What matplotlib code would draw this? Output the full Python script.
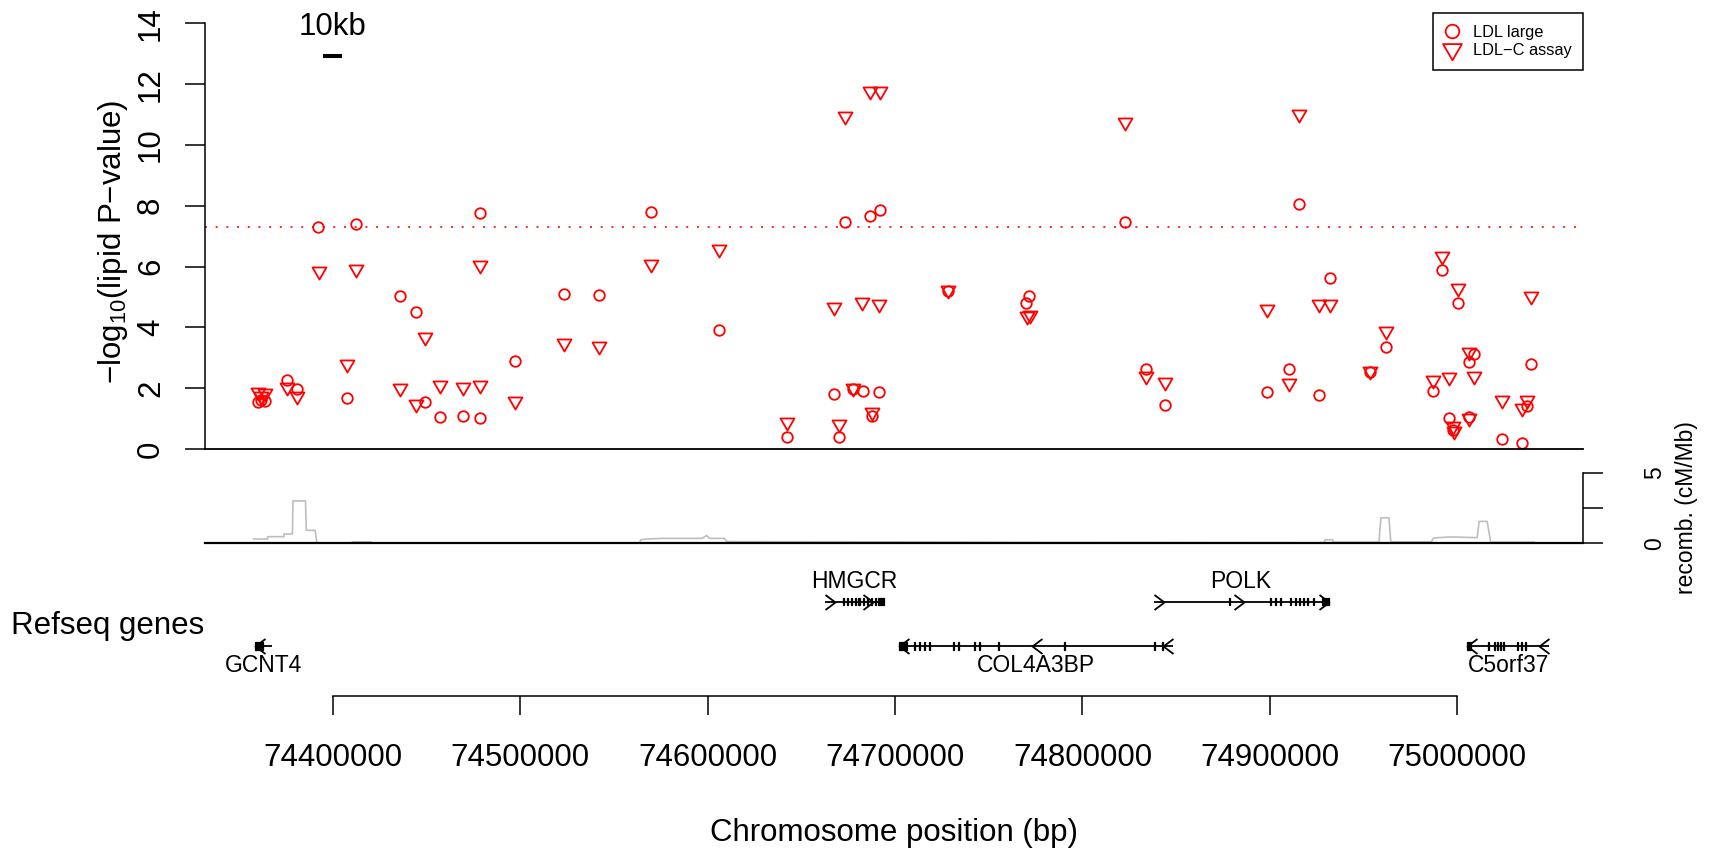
import numpy as np
import matplotlib
matplotlib.use('Agg')
import matplotlib.pyplot as plt
from matplotlib.path import Path
from matplotlib.lines import Line2D

plt.rcParams['font.family'] = ['Liberation Sans', 'DejaVu Sans']
plt.rcParams['mathtext.fontset'] = 'custom'
plt.rcParams['mathtext.rm'] = 'Liberation Sans'
plt.rcParams['mathtext.it'] = 'Liberation Sans:italic'
plt.rcParams['lines.scale_dashes'] = False

# ---------------- data ----------------
ldl_large_pos = [74360300, 74361500, 74363900, 74375800, 74380800, 74392300, 74407600, 74412300,
                 74435900, 74444400, 74449200, 74457300, 74469400, 74478600, 74478600, 74497400,
                 74523400, 74542200, 74569800, 74606100, 74642400, 74667600, 74670000, 74673300,
                 74677400, 74682800, 74686700, 74687700, 74691600, 74692000, 74728100, 74769900,
                 74771500, 74822700, 74833700, 74844000, 74898600, 74910300, 74915400, 74926000,
                 74932200, 74953400, 74962100, 74987200, 74992000, 74995400, 74997800, 75000500,
                 75006200, 75006400, 75009100, 75023800, 75034300, 75037000, 75039100]
ldl_large_logp = [1.56, 1.62, 1.57, 2.27, 1.96, 7.31, 1.67, 7.39,
                  5.03, 4.52, 1.56, 1.05, 1.09, 1.02, 7.77, 2.91,
                  5.09, 5.07, 7.81, 3.91, 0.39, 1.81, 0.39, 7.45,
                  1.96, 1.91, 7.66, 1.10, 1.87, 7.87, 5.20, 4.79,
                  5.03, 7.45, 2.63, 1.44, 1.88, 2.63, 8.06, 1.79,
                  5.64, 2.54, 3.37, 1.92, 5.89, 1.03, 0.62, 4.81,
                  1.06, 2.85, 3.11, 0.32, 0.21, 1.41, 2.79]

ldlc_pos = [74360300, 74361500, 74363900, 74375800, 74380800, 74392700, 74407600, 74412300,
            74435900, 74444400, 74449200, 74457300, 74469400, 74478600, 74478600, 74497400,
            74523400, 74542200, 74569800, 74606100, 74642400, 74667600, 74670000, 74673300,
            74677400, 74682400, 74686700, 74687700, 74691600, 74692000, 74728100, 74770200,
            74772000, 74822700, 74833700, 74844000, 74898600, 74910300, 74915400, 74926000,
            74932200, 74953400, 74962100, 74987200, 74992000, 74995500, 74997800, 74998200,
            75000500, 75006200, 75006400, 75009100, 75023800, 75034300, 75037000, 75039100]
ldlc_logp = [1.88, 1.75, 1.85, 2.04, 1.75, 5.86, 2.81, 5.91,
             2.02, 1.49, 3.67, 2.10, 2.04, 2.10, 6.06, 1.58,
             3.48, 3.39, 6.08, 6.59, 0.89, 4.68, 0.81, 10.96,
             2.02, 4.85, 11.78, 1.21, 4.76, 11.78, 5.23, 4.38,
             4.40, 10.77, 2.41, 2.21, 4.60, 2.16, 11.03, 4.76,
             4.76, 2.57, 3.89, 2.27, 6.35, 2.38, 0.76, 0.58,
             5.31, 1.03, 3.19, 2.41, 1.60, 1.36, 1.60, 5.04]

series_labels = ['LDL large', 'LDL\u2212C assay']
gw_threshold = 7.3
scale_bar_center = 74400000
scale_bar_len = 10000

recomb_pos = [74357800, 74365300, 74365300, 74374000, 74374000, 74378500, 74378800, 74385500,
              74385900, 74390600, 74391600, 74410000, 74410500, 74420500, 74421000, 74563700,
              74564300, 74567400, 74575700, 74597000, 74599500, 74601000, 74609000, 74610300,
              74700000, 74780000, 74915000, 74928900, 74929500, 74933500, 74934000, 74958200,
              74959200, 74963500, 74964500, 74986100, 74987300, 74996300, 75010600, 75011600,
              75015900, 75017800, 75041000]
recomb_rate = [0.30, 0.30, 0.47, 0.47, 0.66, 0.66, 3.00, 3.00,
               0.92, 0.92, 0.00, 0.00, 0.10, 0.10, 0.00, 0.00,
               0.25, 0.30, 0.35, 0.35, 0.55, 0.35, 0.35, 0.12,
               0.10, 0.06, 0.04, 0.04, 0.25, 0.25, 0.08, 0.08,
               1.81, 1.81, 0.10, 0.10, 0.38, 0.45, 0.40, 1.55,
               1.55, 0.08, 0.08]

gene_names = ['GCNT4', 'HMGCR', 'COL4A3BP', 'POLK', 'C5orf37']
gene_start = [74358800, 74662860, 74702340, 74838060, 75005040]
gene_end = [74367500, 74694100, 74848300, 74931270, 75049100]
gene_strand = ['-', '+', '-', '+', '-']
gene_row = [0, 1, 0, 1, 0]
gene_arrows = [[74358800],
               [74668200, 74688500],
               [74702340, 74773300, 74843000],
               [74843400, 74885960, 74931270],
               [75005040, 75043800]]
gene_exons = [
    [(74358800, 74362800)],
    [(74672000, 74672600), (74674200, 74674800), (74676300, 74677000), (74678400, 74679000),
     (74680500, 74681200), (74682700, 74683300), (74684800, 74685500), (74687000, 74687600),
     (74689100, 74689700), (74690800, 74694100)],
    [(74702340, 74706400), (74710120, 74710700), (74712790, 74713300), (74715460, 74716000),
     (74718130, 74718700), (74730930, 74731500), (74733600, 74734100), (74742130, 74742700),
     (74744800, 74745300), (74754940, 74755500), (74790150, 74790600), (74838160, 74838600),
     (74842430, 74842900)],
    [(74878180, 74878700), (74900050, 74900600), (74902720, 74903200), (74905390, 74905900),
     (74910720, 74911200), (74913390, 74913900), (74915520, 74916000), (74917660, 74918100),
     (74919790, 74920300), (74922990, 74923500), (74927800, 74931270)],
    [(75005040, 75007300), (75016350, 75016900), (75019550, 75020000), (75021150, 75021600),
     (75022760, 75023200), (75024360, 75024800), (75031830, 75032300), (75033960, 75034400),
     (75036100, 75036600)],
]

x_ticks = [74400000, 74500000, 74600000, 74700000, 74800000, 74900000, 75000000]
y_ticks = [0, 2, 4, 6, 8, 10, 12, 14]

# ---------------- layout ----------------
W, H = 1711, 852
fig = plt.figure(figsize=(W / 100, H / 100), dpi=100)

def fr(x0, y_top, x1, y_bot):
    return [x0 / W, 1 - y_bot / H, (x1 - x0) / W, (y_bot - y_top) / H]

XL, XR = 205, 1583
XLIM = (74331870, 75067035)
FS = 22.5
RED = '#FF0000'

tri = Path([(0, -1.555), (1.3468, 0.7776), (-1.3468, 0.7776), (0, -1.555)],
           [Path.MOVETO, Path.LINETO, Path.LINETO, Path.CLOSEPOLY])
chev_left = Path([(1, 0.75), (0, 0), (1, -0.75)], [Path.MOVETO, Path.LINETO, Path.LINETO])
chev_right = Path([(-1, 0.75), (0, 0), (-1, -0.75)], [Path.MOVETO, Path.LINETO, Path.LINETO])

# ---------------- main panel ----------------
ax = fig.add_axes(fr(XL, 23.3, XR, 449))
ax.set_xlim(XLIM)
ax.set_ylim(0, 14)
for s in ['top', 'right']:
    ax.spines[s].set_visible(False)
ax.spines['left'].set_linewidth(1.1)
ax.spines['bottom'].set_linewidth(1.3)
ax.set_xticks([])
ax.set_yticks(y_ticks)
ax.set_yticklabels([str(v) for v in y_ticks])
ax.tick_params(axis='y', length=14.4, width=1.1, labelsize=FS, pad=13.6)
for t in ax.get_yticklabels():
    t.set_rotation(90)
    t.set_va('center')

ax.axhline(gw_threshold, color=RED, lw=1.2, linestyle=(0, (1.4, 6.3)))
ax.plot(ldl_large_pos, ldl_large_logp, ls='none', marker='o', ms=7.6, mfc='none',
        mec=RED, mew=1.3, clip_on=False)
ax.plot(ldlc_pos, ldlc_logp, ls='none', marker=tri, ms=11.6, mfc='none',
        mec=RED, mew=1.3, clip_on=False)

ax.plot([scale_bar_center - scale_bar_len / 2, scale_bar_center + scale_bar_len / 2],
        [12.94, 12.94], color='black', lw=2.9, solid_capstyle='butt')
ax.text(scale_bar_center, 13.89, '10kb', ha='center', va='center', fontsize=FS, clip_on=False)

fig.text(113 / W, 1 - 242 / H, '\u2212log$_{10}$(lipid P\u2212value)', rotation=90,
         ha='center', va='center', fontsize=FS)

handles = [Line2D([], [], ls='none', marker='o', ms=9.8, mfc='none', mec=RED, mew=1.3),
           Line2D([], [], ls='none', marker=tri, ms=15.6, mfc='none', mec=RED, mew=1.3)]
leg = ax.legend(handles, series_labels, loc='upper right',
                bbox_to_anchor=(XR / W, 1 - 13.3 / H), bbox_transform=fig.transFigure,
                fontsize=11.8, frameon=True, fancybox=False, edgecolor='black', framealpha=1,
                borderpad=0.7, labelspacing=0.2, handlelength=1.0, handletextpad=0.75,
                borderaxespad=0)
leg.get_frame().set_linewidth(1.1)

# ---------------- recombination panel ----------------
axr = fig.add_axes(fr(XL, 472.7, XR, 543.3))
axr.set_xlim(XLIM)
axr.set_ylim(0, 5)
axr.spines['left'].set_visible(False)
axr.spines['top'].set_visible(False)
axr.spines['bottom'].set_linewidth(1.6)
axr.spines['right'].set_linewidth(1.1)
axr.set_xticks([])
axr.yaxis.tick_right()
axr.set_yticks([0, 2.5, 5])
axr.set_yticklabels(['0', '', '5'])
axr.tick_params(axis='y', length=14.4, width=1.1, labelsize=16.5, pad=29)
for t in axr.get_yticklabels():
    t.set_rotation(90)
    t.set_va('center')
axr.plot(recomb_pos, recomb_rate, color='#BEBEBE', lw=1.2, zorder=1)
fig.text(1686 / W, 1 - 508 / H, 'recomb. (cM/Mb)', rotation=90, ha='center', va='center',
         fontsize=16.5)

# ---------------- genes panel + x axis ----------------
axg = fig.add_axes(fr(XL, 560, XR, 696))
axg.set_xlim(XLIM)
axg.set_ylim(-1.1287, 1.9413)
for s in ['left', 'right', 'top']:
    axg.spines[s].set_visible(False)
axg.spines['bottom'].set_bounds(x_ticks[0], x_ticks[-1])
axg.spines['bottom'].set_linewidth(1.1)
axg.set_yticks([])
axg.set_xticks(x_ticks)
axg.set_xticklabels([str(v) for v in x_ticks])
axg.tick_params(axis='x', length=13.7, width=1.1, labelsize=FS, pad=20.3)

exon_h = 0.17
for name, st, en, strand, row, arrows, exons in zip(gene_names, gene_start, gene_end,
                                                    gene_strand, gene_row, gene_arrows, gene_exons):
    axg.plot([st, en], [row, row], color='black', lw=1.3, solid_capstyle='butt')
    for (es, ee) in exons:
        axg.bar(x=es, height=exon_h, width=ee - es, bottom=row - exon_h / 2, align='edge',
                color='black', edgecolor='black', linewidth=0.9)
    axg.plot(arrows, [row] * len(arrows), ls='none',
             marker=chev_left if strand == '-' else chev_right,
             ms=14.4, mfc='none', mec='black', mew=1.3)
    ymid = row + 0.445 if row == 1 else row - 0.43
    axg.text((st + en) / 2, ymid, name, ha='center', va='center', fontsize=16.5)

fig.text(11 / W, 1 - 626 / H, 'Refseq genes', ha='left', va='center', fontsize=FS)
fig.text(894 / W, 1 - 833 / H, 'Chromosome position (bp)', ha='center', va='center', fontsize=FS)

fig.savefig('out.png', dpi=100)
